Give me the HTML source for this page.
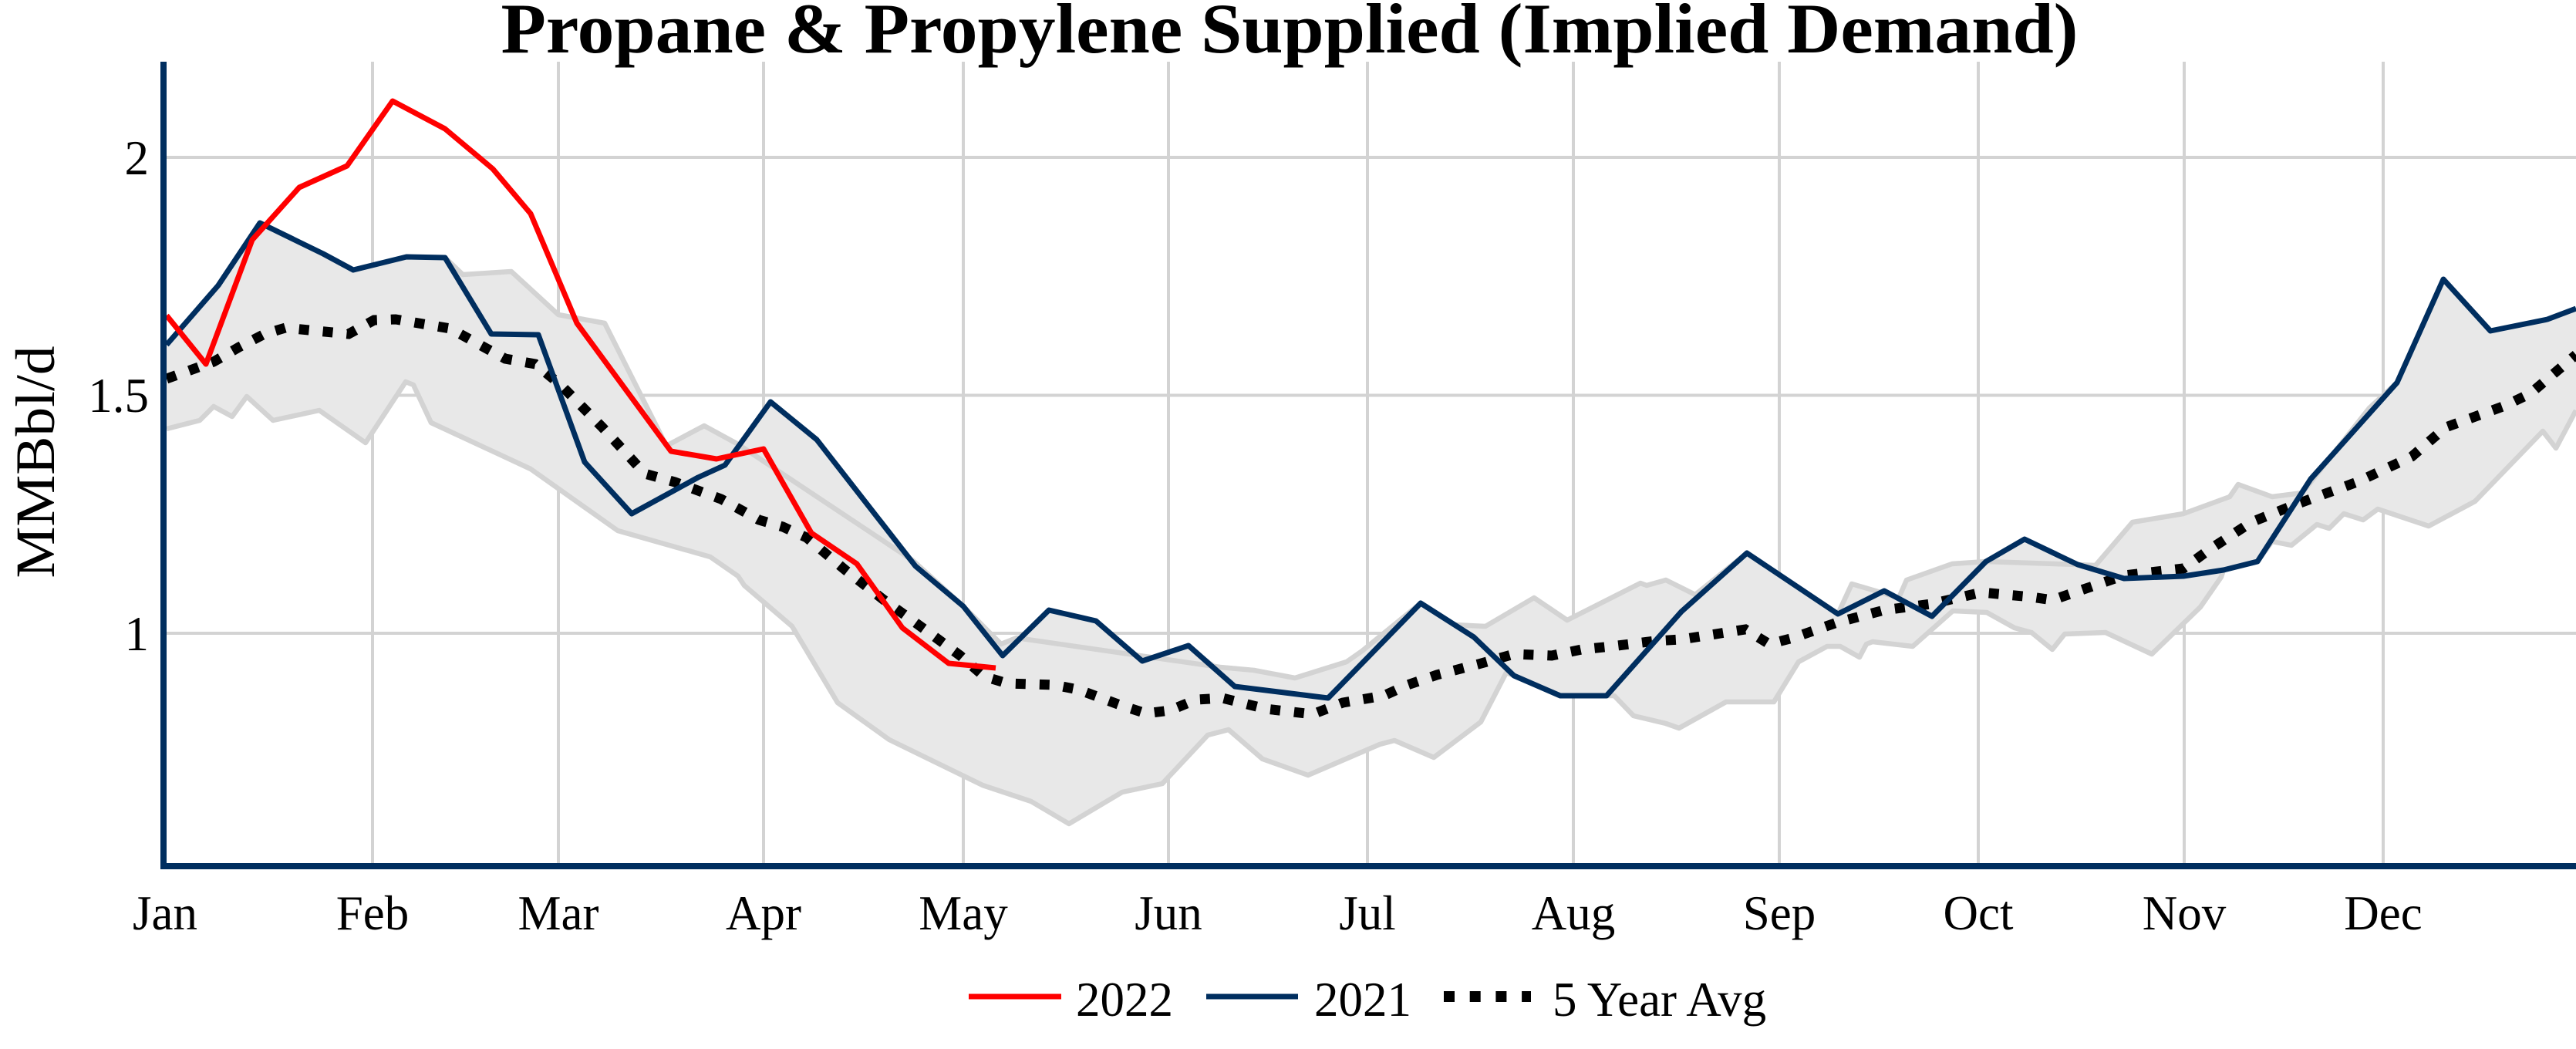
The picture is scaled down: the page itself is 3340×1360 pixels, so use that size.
<!DOCTYPE html>
<html><head><meta charset="utf-8"><style>html,body{margin:0;padding:0;background:#fff}svg{display:block}</style></head>
<body>
<svg width="3340" height="1360" viewBox="0 0 3340 1360" xmlns="http://www.w3.org/2000/svg" font-family="'Liberation Serif', serif">
<rect width="3340" height="1360" fill="#fff"/>
<g stroke="#d3d3d3" stroke-width="4">
<line x1="212" y1="204" x2="3340" y2="204"/><line x1="212" y1="512.5" x2="3340" y2="512.5"/><line x1="212" y1="821" x2="3340" y2="821"/>
<line x1="483" y1="80" x2="483" y2="1123"/><line x1="724" y1="80" x2="724" y2="1123"/><line x1="990" y1="80" x2="990" y2="1123"/>
<line x1="1249" y1="80" x2="1249" y2="1123"/><line x1="1515" y1="80" x2="1515" y2="1123"/><line x1="1773" y1="80" x2="1773" y2="1123"/>
<line x1="2040" y1="80" x2="2040" y2="1123"/><line x1="2307" y1="80" x2="2307" y2="1123"/><line x1="2565" y1="80" x2="2565" y2="1123"/>
<line x1="2832" y1="80" x2="2832" y2="1123"/><line x1="3090" y1="80" x2="3090" y2="1123"/>
</g>
<polygon fill="#e8e8e8" stroke="none" points="216,447 283,370 337,289 419,329 458,350 527,333 577,334 600,356 663,352 724,408 784,419 864,578 913,552 957,576 999,521 1059,570 1184,727 1249,786 1298,835 1318,827 1360,791 1421,805 1481,857 1541,837 1582,865 1626,869 1679,879 1746,858 1766,844 1842,782 1886,810 1926,812 1989,775 2032,804 2127,756 2135,759 2160,752 2198,771 2265,717 2383,796 2401,757 2462,775 2472,752 2531,731 2575,728 2625,699 2694,732 2717,733 2765,677 2831,666 2891,644 2902,628 2946,644 2985,639 3072,529 3108,496 3168,362 3229,429 3303,414 3340,400 3340,532 3314,581 3297,559 3209,650 3149,682 3083,660 3064,674 3039,666 3020,685 3004,680 2971,707 2946,702 2927,728 2883,739 2880,748 2853,787 2790,848 2730,820 2677,822 2661,842 2634,820 2612,814 2576,794 2532,792 2480,838 2428,832 2420,835 2411,852 2386,838 2369,838 2332,858 2300,910 2238,910 2177,944 2160,938 2118,928 2093,902 2083,902 2023,902 1963,876 1953,872 1920,936 1859,982 1808,960 1789,965 1696,1005 1637,984 1593,946 1566,953 1507,1016 1455,1027 1386,1068 1337,1039 1274,1018 1153,959 1086,911 1027,812 965,759 957,747 921,722 801,688 688,608 559,548 536,499 526,495 474,574 414,532 354,545 320,514 301,540 277,527 259,545 216,556"/>
<g fill="none" stroke="#d3d3d3" stroke-width="6.5" stroke-linejoin="round">
<polyline points="577,334 600,356 663,352 724,408 784,419 864,578 913,552 957,576 1184,727 1249,786 1298,835 1318,827 1582,865 1626,869 1679,879 1746,858 1766,844 1842,782 1886,810 1926,812 1989,775 2032,804 2127,756 2135,759 2160,752 2198,771 2265,717 2383,796 2401,757 2462,775 2472,752 2531,731 2575,728 2694,732 2717,733 2765,677 2831,666 2891,644 2902,628 2946,644 2985,639 3072,529 3108,496"/>
<polyline points="3340,532 3314,581 3297,559 3209,650 3149,682 3083,660 3064,674 3039,666 3020,685 3004,680 2971,707 2946,702 2927,728 2883,739 2880,748 2853,787 2790,848 2730,820 2677,822 2661,842 2634,820 2612,814 2576,794 2532,792 2480,838 2428,832 2420,835 2411,852 2386,838 2369,838 2332,858 2300,910 2238,910 2177,944 2160,938 2118,928 2093,902 2083,902 2023,902 1963,876 1953,872 1920,936 1859,982 1808,960 1789,965 1696,1005 1637,984 1593,946 1566,953 1507,1016 1455,1027 1386,1068 1337,1039 1274,1018 1153,959 1086,911 1027,812 965,759 957,747 921,722 801,688 688,608 559,548 536,499 526,495 474,574 414,532 354,545 320,514 301,540 277,527 259,545 216,556"/>
</g>
<polyline fill="none" stroke="#000" stroke-width="13" stroke-dasharray="13 18" points="216,491 277,469 310,450 343,433 370,425 452,433 485,415 513,414 584,426 622,447 655,465 694,472 727,499 781,554 836,614 875,625 935,647 984,674 1015,683 1046,697 1096,739 1145,777 1199,816 1245,850 1276,877 1306,886 1367,888 1398,894 1455,915 1486,925 1517,921 1551,907 1585,905 1641,919 1702,926 1741,911 1794,902 1825,888 1863,875 1917,861 1963,848 2012,850 2051,842 2089,838 2146,831 2180,829 2263,816 2294,835 2325,827 2382,807 2443,791 2504,783 2569,768 2634,774 2661,778 2719,758 2754,746 2831,737 2864,713 2919,677 2974,655 3056,625 3127,592 3171,554 3248,526 3281,510 3340,460"/>
<polyline fill="none" stroke="#002e5f" stroke-width="7" stroke-linejoin="round" points="216,447 283,370 337,289 419,329 458,350 527,333 577,334 637,433 698,434 758,599 819,666 905,619 940,603 999,521 1059,570 1187,734 1249,786 1300,850 1360,791 1421,805 1481,857 1541,837 1601,890 1722,905 1842,782 1911,826 1963,876 2023,902 2083,902 2180,793 2265,717 2383,796 2443,766 2505,799 2575,728 2625,699 2694,732 2754,750 2831,747 2883,739 2927,728 2996,621 3108,496 3168,362 3229,429 3303,414 3340,400"/>
<polyline fill="none" stroke="#ff0000" stroke-width="7" stroke-linejoin="round" points="216,409 267,472 327,311 388,243 450,215 509,131 577,167 639,219 688,277 748,419 870,585 929,595 990,582 1052,691 1111,731 1170,814 1230,860 1291,866"/>
<line x1="212" y1="80" x2="212" y2="1127" stroke="#002e5f" stroke-width="8"/>
<line x1="208" y1="1123" x2="3340" y2="1123" stroke="#002e5f" stroke-width="8"/>
<g font-size="63" fill="#000">
<g text-anchor="end"><text x="193" y="226">2</text><text x="193" y="534">1.5</text><text x="193" y="843">1</text></g>
<g text-anchor="middle">
<text x="214" y="1205">Jan</text><text x="483" y="1205">Feb</text><text x="724" y="1205">Mar</text><text x="990" y="1205">Apr</text>
<text x="1249" y="1205">May</text><text x="1515" y="1205">Jun</text><text x="1773" y="1205">Jul</text><text x="2040" y="1205">Aug</text>
<text x="2307" y="1205">Sep</text><text x="2565" y="1205">Oct</text><text x="2832" y="1205">Nov</text><text x="3090" y="1205">Dec</text>
</g>
<text transform="translate(70,599) rotate(-90)" text-anchor="middle" font-size="72" textLength="301" lengthAdjust="spacingAndGlyphs">MMBbl/d</text>
<text x="1672" y="68" text-anchor="middle" font-size="92" font-weight="bold" textLength="2045" lengthAdjust="spacingAndGlyphs">Propane &amp; Propylene Supplied (Implied Demand)</text>
<line x1="1256" y1="1292" x2="1376" y2="1292" stroke="#ff0000" stroke-width="7"/>
<text x="1395" y="1317">2022</text>
<line x1="1564" y1="1292" x2="1683" y2="1292" stroke="#002e5f" stroke-width="7"/>
<text x="1704" y="1317">2021</text>
<line x1="1872" y1="1292" x2="1985" y2="1292" stroke="#000" stroke-width="14" stroke-dasharray="14 19.7"/>
<text x="2013" y="1317">5 Year Avg</text>
</g>
</svg>
</body></html>
